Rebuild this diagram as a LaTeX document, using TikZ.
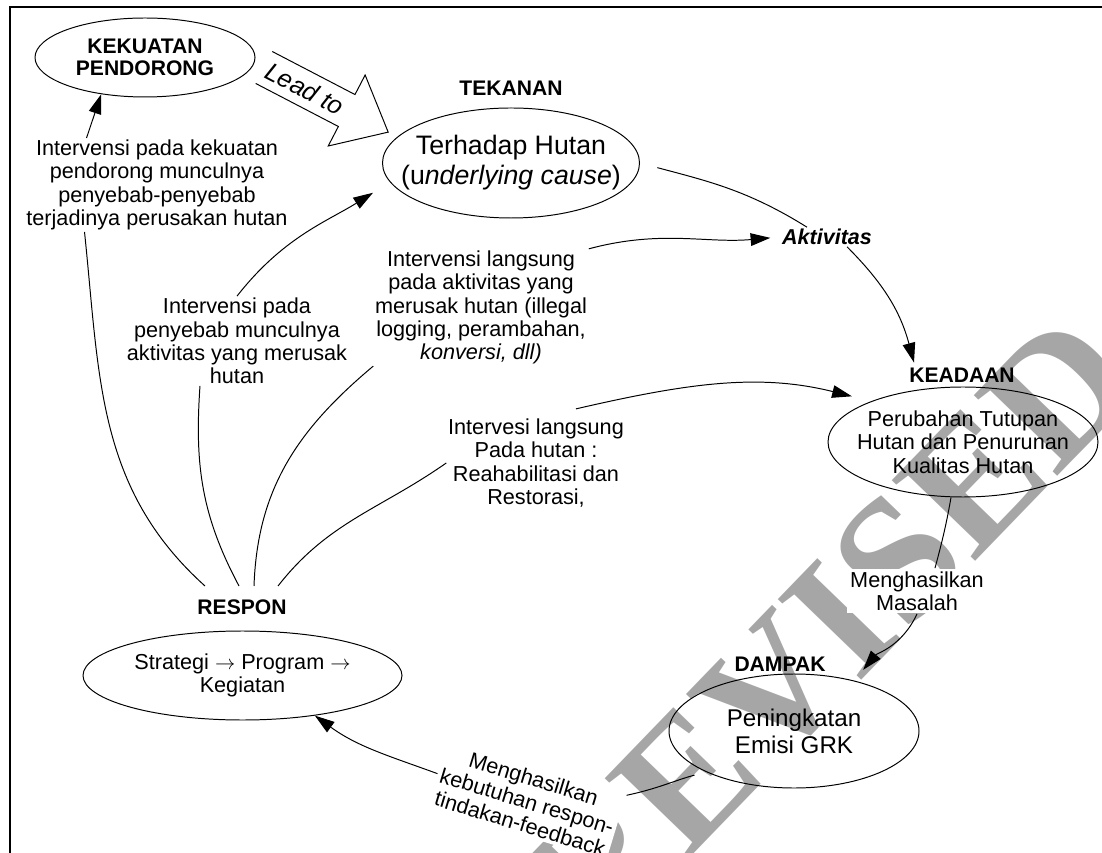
\documentclass[tikz,border=0pt]{standalone}
\usepackage{fontspec}
\setmainfont{Liberation Sans}
\newfontfamily\wmfont{Liberation Serif}
\usetikzlibrary{shapes.geometric,arrows.meta}

\begin{document}
\begin{tikzpicture}[line width=0.7pt,
  oval/.style={draw, ellipse, inner sep=0pt},
  head/.style={font=\fontsize{15}{16}\selectfont\bfseries},
  note/.style={align=center, inner sep=1pt, font=\fontsize{15.4}{16.6}\selectfont},
  big/.style={align=center, font=\fontsize{19}{21.3}\selectfont},
  mid/.style={align=center, font=\fontsize{17.2}{19}\selectfont},
  link/.style={-{Triangle[length=14pt,width=9pt]}}]
\useasboundingbox (0,0) rectangle (27.55,21.3);
\clip (0,0) rectangle (27.55,21.3);

\node[rotate=46, text=black!35, font=\wmfont\bfseries\fontsize{126}{126}\selectfont] (wm) at (20.75,5.55) {REVISED};

\draw[line width=1.1pt] (0.25,-0.1) -- (0.25,21.125) -- (27.6,21.125);

\node[oval, head, align=center, minimum width=5.5cm, minimum height=1.975cm] (kekuatan) at (3.625,19.8625) {KEKUATAN\\PENDORONG};

\node[head] (tekananlbl) at (12.775,19.1) {TEKANAN};
\node[oval, minimum width=6.425cm, minimum height=2.75cm] (tekanan) at (12.775,17.225) {};
\node[big] (tekanantxt) at (tekanan) {Terhadap Hutan\\(u\textit{nderlying cause})};

\node[head] (keadaanlbl) at (24.05,11.925) {KEADAAN};
\node[oval, minimum width=6.75cm, minimum height=2.75cm] (keadaan) at (24.075,10.25) {};
\node[note] (keadaantxt) at (keadaan) {Perubahan Tutupan\\Hutan dan Penurunan\\Kualitas Hutan};

\node[head] (dampaklbl) at (19.5,4.7) {DAMPAK};
\node[oval, mid, minimum width=6.25cm, minimum height=2.85cm] (dampak) at (19.85,3.025) {Peningkatan\\Emisi GRK};

\node[head] (responlbl) at (6.05,6.1125) {RESPON};
\node[oval, note, minimum width=7.975cm, minimum height=2.225cm] (respon) at (6.0625,4.4125) {Strategi $\rightarrow$ Program $\rightarrow$\\Kegiatan};

\begin{scope}[shift={(6.6,19.6125)}, rotate=-27.5]
  \draw (0,0.45) -- (2.33,0.45) -- (2.33,1) -- (3.5,0) -- (2.33,-1) -- (2.33,-0.45) -- (0,-0.45);
  \node[rotate=-27.5, font=\fontsize{18}{18}\selectfont\itshape] (leadto) at (1.15,0) {Lead to};
\end{scope}

\node[note] (lblA) at (3.925,16.675) {Intervensi pada kekuatan\\pendorong munculnya\\penyebab-penyebab\\terjadinya perusakan hutan};
\node[note] (lblB) at (5.925,12.775) {Intervensi pada\\penyebab munculnya\\aktivitas yang merusak\\hutan};
\node[note] (lblC) at (12.025,13.6125) {Intervensi langsung\\pada aktivitas yang\\merusak hutan (illegal\\logging, perambahan,\\\textit{konversi, dll)}};
\node[note] (lblD) at (13.4,9.725) {Intervesi langsung\\Pada hutan :\\Reahabilitasi dan\\Restorasi,};
\node[font=\fontsize{15.3}{16}\selectfont\bfseries\itshape, inner sep=1pt] (aktivitas) at (20.675,15.375) {Aktivitas};
\node[note, fill=white, inner sep=2pt] (lblMasalah) at (22.925,6.525) {Menghasilkan\\Masalah};
\node[note, fill=white, inner sep=2pt, rotate=-17] (lblFeedback) at (13.175,1.275) {Menghasilkan\\kebutuhan respon-\\tindakan-feedback};

\foreach \x [count=\i] in {5.125,5.975,6.35,6.95}
  \coordinate (r\i) at (\x,6.65);

\draw (r1) to[out=138,in=-84] ([xshift=1.5cm]lblA.south west);
\draw[link] ([xshift=1.55cm]lblA.north west) -- (kekuatan.220);
\draw (r2) to[out=118,in=-94] ([xshift=-0.925cm]lblB.south);
\draw[link, shorten >=0.5cm] (lblB.north) to[out=52,in=212] (tekanan.189);
\draw (r3) to[out=88,in=220] (lblC.south west);
\draw[link, shorten >=0.25cm] (lblC.north east) to[out=15,in=185] (aktivitas.west);
\draw (r4) to[out=52,in=215] (lblD.west);
\draw[link, shorten >=0.5cm] ([xshift=1cm,yshift=0.2cm]lblD.north) to[out=13,in=166] (keadaan.156);

\draw[shorten <=0.45cm] (tekanan.east) to[out=-15,in=148] ([xshift=-0.5cm]aktivitas.north);
\draw[link] ([xshift=0.5cm]aktivitas.south) to[out=-45,in=105] ([xshift=-1.2cm]keadaanlbl.north);
\draw ([xshift=-0.3cm]keadaan.south) to[out=-100,in=75] ([xshift=0.45cm]lblMasalah.north);
\draw[link, shorten >=0.35cm] (lblMasalah.south) to[out=-115,in=50] (dampak.40);
\draw[shorten <=0.3cm] (dampak.205) to[out=195,in=12] (lblFeedback.north east);
\draw[link] (lblFeedback.west) to[out=160,in=-36] (respon.-29);
\end{tikzpicture}
\end{document}
